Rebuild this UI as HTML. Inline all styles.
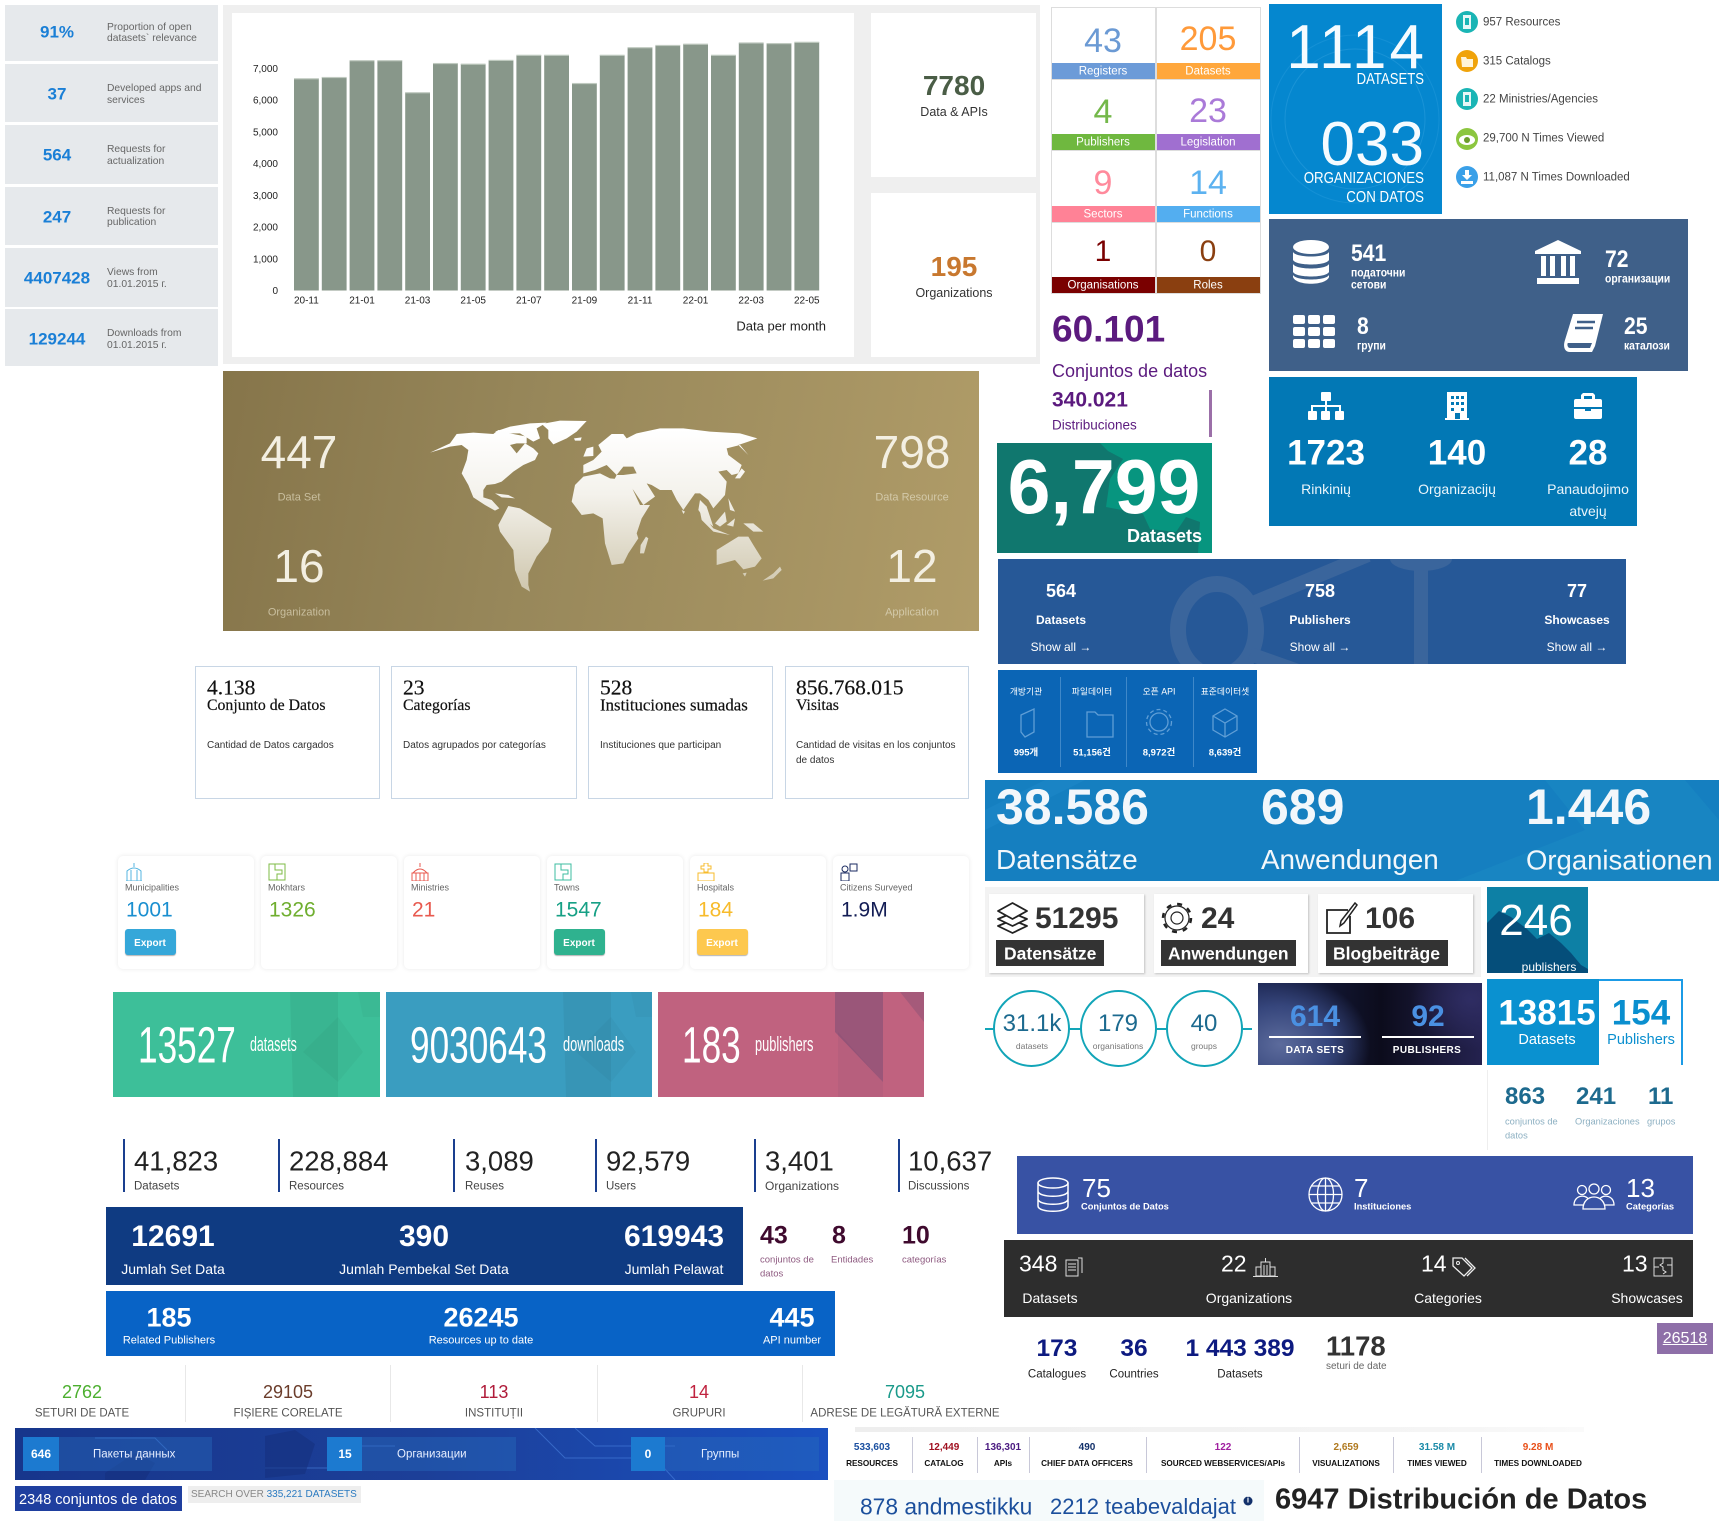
<!DOCTYPE html>
<html lang="en">
<head>
<meta charset="utf-8">
<title>Open data statistics widgets</title>
<style>
html,body{margin:0;padding:0;background:#fff}
body{position:relative;width:1724px;height:1521px;overflow:hidden;font-family:"Liberation Sans","Noto Sans CJK KR",sans-serif;color:#333}
.b{position:absolute;box-sizing:border-box}
.t{position:absolute;white-space:nowrap;line-height:1;margin-top:1px}
.l{transform:translateY(-50%)}
.c{transform:translate(-50%,-50%)}
.r{transform:translate(-100%,-50%)}
.w{font-weight:bold}
.i{position:absolute;overflow:hidden}
.m0{margin-top:0}
.row{background:#e6e9ec;left:5px;width:213px}
.num{left:57px;font-size:17px;font-weight:bold;color:#1a7fd6;margin-top:0}
.lab{left:107px;font-size:10.3px;color:#666;margin-top:1px}
.foot{color:#fff;font-size:11.5px}
.big{font-size:34px}
.box4{background:#fff;border:1.5px solid #c8d6e5;top:666px;height:133px}
.sl{font-family:"Liberation Serif",serif;color:#111;-webkit-text-stroke:.2px #111}
.d4{font-size:10px;color:#333}
.card6{background:#fff;top:856px;height:113px;border-radius:5px;box-shadow:0 0 5px rgba(0,0,0,.09)}
.btn{left:0;top:929px;width:51px;height:26px;border-radius:3px;box-shadow:0 1px 1px rgba(0,0,0,.3)}
.sv{font-size:10px;font-weight:bold}
.sb{font-size:8.2px;font-weight:bold;color:#111}
.mk{font-size:11.5px;font-weight:bold;color:#fff;transform:translateY(-50%) scaleX(.9);transform-origin:left center}
.rl{font-size:9.3px;font-weight:bold;color:#fff}
.leg{left:1483px;font-size:11.5px;color:#444;margin-top:1px}
.ro{font-size:11.5px;color:#555}
.lt{font-size:14px;color:#eaf5fb}
.ko{font-size:8.8px;color:#fff}
</style>
</head>
<body>

<section>
<div class="b row" style="top:5px;height:56px"></div>
<div class="b row" style="top:64px;height:58px"></div>
<div class="b row" style="top:125px;height:59px"></div>
<div class="b row" style="top:187px;height:58px"></div>
<div class="b row" style="top:248px;height:59px"></div>
<div class="b row" style="top:309px;height:57px"></div>
<div class="t c num" style="top:32px">91%</div>
<div class="t l lab" style="top:27px">Proportion of open</div>
<div class="t l lab" style="top:38px">datasets` relevance</div>
<div class="t c num" style="top:94px">37</div>
<div class="t l lab" style="top:88px">Developed apps and</div>
<div class="t l lab" style="top:100px">services</div>
<div class="t c num" style="top:155px">564</div>
<div class="t l lab" style="top:149px">Requests for</div>
<div class="t l lab" style="top:161px">actualization</div>
<div class="t c num" style="top:217px">247</div>
<div class="t l lab" style="top:211px">Requests for</div>
<div class="t l lab" style="top:222px">publication</div>
<div class="t c num" style="top:278px">4407428</div>
<div class="t l lab" style="top:272px">Views from</div>
<div class="t l lab" style="top:284px">01.01.2015 г.</div>
<div class="t c num" style="top:339px">129244</div>
<div class="t l lab" style="top:333px">Downloads from</div>
<div class="t l lab" style="top:345px">01.01.2015 г.</div>
</section>

<section>
<div class="b" style="left:223px;top:5px;width:817px;height:359px;background:#efefef"></div>
<div class="b" style="left:232px;top:13px;width:622px;height:344px;background:#fff"></div>
<div class="b" style="left:871px;top:13px;width:165px;height:164px;background:#fff"></div>
<div class="b" style="left:871px;top:193px;width:165px;height:164px;background:#fff"></div>
<svg id="bar-chart" class="i" style="left:0;top:0" width="1040" height="364" viewBox="0 0 1040 364"></svg>
<div class="t r m0" style="left:826px;top:326px;font-size:13px;color:#222">Data per month</div>
<div class="t c w m0" style="left:954px;top:86px;font-size:28px;color:#4a5d46">7780</div>
<div class="t c m0" style="left:954px;top:112px;font-size:12.5px;color:#333">Data &amp; APIs</div>
<div class="t c w m0" style="left:954px;top:267px;font-size:28px;color:#c8782f">195</div>
<div class="t c m0" style="left:954px;top:293px;font-size:12.5px;color:#333">Organizations</div>
</section>

<section>
<div class="b" style="left:1051px;top:7px;width:210px;height:287px;border:1px solid #ddd;background:#ddd"></div>
<div class="b" style="left:1052px;top:8px;width:103px;height:71px;background:#fff"></div>
<div class="b" style="left:1052px;top:63px;width:103px;height:16px;background:#6c9bd8"></div>
<div class="b" style="left:1157px;top:8px;width:103px;height:71px;background:#fff"></div>
<div class="b" style="left:1157px;top:63px;width:103px;height:16px;background:#ffa73c"></div>
<div class="b" style="left:1052px;top:80px;width:103px;height:70px;background:#fff"></div>
<div class="b" style="left:1052px;top:134px;width:103px;height:16px;background:#6fb83f"></div>
<div class="b" style="left:1157px;top:80px;width:103px;height:70px;background:#fff"></div>
<div class="b" style="left:1157px;top:134px;width:103px;height:16px;background:#a06fd0"></div>
<div class="b" style="left:1052px;top:151px;width:103px;height:70px;background:#fff"></div>
<div class="b" style="left:1052px;top:206px;width:103px;height:16px;background:#ff8296"></div>
<div class="b" style="left:1157px;top:151px;width:103px;height:70px;background:#fff"></div>
<div class="b" style="left:1157px;top:206px;width:103px;height:16px;background:#53aef0"></div>
<div class="b" style="left:1052px;top:223px;width:103px;height:70px;background:#fff"></div>
<div class="b" style="left:1052px;top:277px;width:103px;height:16px;background:#7a0000"></div>
<div class="b" style="left:1157px;top:223px;width:103px;height:70px;background:#fff"></div>
<div class="b" style="left:1157px;top:277px;width:103px;height:16px;background:#8a3f10"></div>
<div class="t c big" style="left:1103px;top:40px;color:#6b9ad4">43</div>
<div class="t c foot" style="left:1103px;top:71px">Registers</div>
<div class="t c big" style="left:1208px;top:38px;color:#ff9a3a">205</div>
<div class="t c foot" style="left:1208px;top:71px">Datasets</div>
<div class="t c big" style="left:1103px;top:111px;color:#74b84a">4</div>
<div class="t c foot" style="left:1103px;top:142px">Publishers</div>
<div class="t c big" style="left:1208px;top:110px;color:#aa7ad8">23</div>
<div class="t c foot" style="left:1208px;top:142px">Legislation</div>
<div class="t c big" style="left:1103px;top:182px;color:#ff8a9c">9</div>
<div class="t c foot" style="left:1103px;top:214px">Sectors</div>
<div class="t c big" style="left:1208px;top:182px;color:#5cb2f0">14</div>
<div class="t c foot" style="left:1208px;top:214px">Functions</div>
<div class="t c" style="left:1103px;top:251px;font-size:30px;color:#7a0000">1</div>
<div class="t c foot" style="left:1103px;top:285px">Organisations</div>
<div class="t c" style="left:1208px;top:251px;font-size:30px;color:#8a3f10">0</div>
<div class="t c foot" style="left:1208px;top:285px">Roles</div>
</section>

<section>
<div class="t l w m0" style="left:1052px;top:329px;font-size:37px;color:#5b1a7e">60.101</div>
<div class="t l m0" style="left:1052px;top:371px;font-size:18px;color:#5b1a7e">Conjuntos de datos</div>
<div class="t l w" style="left:1052px;top:399px;font-size:21px;color:#5b1a7e">340.021</div>
<div class="t l m0" style="left:1052px;top:425px;font-size:13.5px;color:#5b1a7e">Distribuciones</div>
<div class="b" style="left:1209px;top:390px;width:3px;height:47px;background:#9b6fa8"></div>
</section>

<section>
<svg class="i" style="left:997px;top:443px" width="215" height="110" viewBox="0 0 215 110">
<rect width="215" height="110" fill="#07957f"/>
<path d="M0 0H103L111 8 126 16 113 36 109 64 146 71 153 86 179 89 189 74 203 79 201 110H0Z" fill="#10776e"/>
</svg>
<div class="t c w" style="left:1104px;top:487px;font-size:77px;color:#fff">6,799</div>
<div class="t r w" style="left:1202px;top:535px;font-size:18px;color:#fff">Datasets</div>
</section>

<section>
<div class="b" style="left:1269px;top:4px;width:173px;height:210px;background:#0587cf"></div>
<svg class="i" style="left:1269px;top:4px" width="173" height="210" viewBox="0 0 173 210">
<circle cx="86" cy="115" r="70" fill="none" stroke="#1a93d6" stroke-width="1"/>
<circle cx="86" cy="115" r="84" fill="none" stroke="#1490d5" stroke-width="1"/>
</svg>
<div class="t r" style="left:1427px;top:47px;font-size:62px;color:#f5fbff;letter-spacing:3px">1114</div>
<div class="t r" style="left:1424px;top:79px;font-size:16px;color:#fff;transform:translate(-100%,-50%) scaleX(.82);transform-origin:right center">DATASETS</div>
<div class="t r" style="left:1424px;top:144px;font-size:62px;color:#f5fbff">033</div>
<div class="t r" style="left:1424px;top:178px;font-size:16px;color:#fff;transform:translate(-100%,-50%) scaleX(.83);transform-origin:right center">ORGANIZACIONES</div>
<div class="t r" style="left:1424px;top:197px;font-size:16px;color:#fff;transform:translate(-100%,-50%) scaleX(.83);transform-origin:right center">CON DATOS</div>
</section>

<section>
<svg class="i" style="left:1456px;top:11px" width="22" height="22" viewBox="0 0 22 22"><circle cx="11" cy="11" r="11" fill="#1ab5b5"/><rect x="7" y="4" width="8" height="14" fill="#e6f7f7"/><rect x="9" y="7" width="4" height="7" fill="#1ab5b5"/></svg>
<div class="t l leg" style="top:22px">957 Resources</div>
<svg class="i" style="left:1456px;top:50px" width="22" height="22" viewBox="0 0 22 22"><circle cx="11" cy="11" r="11" fill="#f0a30a"/><path d="M5 7h5l1 2h6v8H6z" fill="#fff4d8"/></svg>
<div class="t l leg" style="top:61px">315 Catalogs</div>
<svg class="i" style="left:1456px;top:88px" width="22" height="22" viewBox="0 0 22 22"><circle cx="11" cy="11" r="11" fill="#1ab5b5"/><rect x="7" y="4" width="8" height="14" fill="#e6f7f7"/><rect x="9" y="7" width="4" height="7" fill="#1ab5b5"/></svg>
<div class="t l leg" style="top:99px">22 Ministries/Agencies</div>
<svg class="i" style="left:1456px;top:128px" width="22" height="22" viewBox="0 0 22 22"><circle cx="11" cy="11" r="11" fill="#8cc63f"/><ellipse cx="11" cy="12" rx="8" ry="5" fill="#fff"/><circle cx="11" cy="12" r="3" fill="#6d9e2c"/></svg>
<div class="t l leg" style="top:138px">29,700 N Times Viewed</div>
<svg class="i" style="left:1456px;top:166px" width="22" height="22" viewBox="0 0 22 22"><circle cx="11" cy="11" r="11" fill="#3aa0e8"/><path d="M9 4h4v5h3l-5 5-5-5h3zM5 15h12v3H5z" fill="#fff"/></svg>
<div class="t l leg" style="top:177px">11,087 N Times Downloaded</div>
</section>

<section>
<div class="b" style="left:1269px;top:219px;width:419px;height:152px;background:#3f6089"></div>
<svg class="i" style="left:1292px;top:240px" width="38" height="44" viewBox="0 0 38 44"><g fill="#fff"><ellipse cx="19" cy="7" rx="18" ry="7"/><path d="M1 12c3 6 33 6 36 0v8c-3 6-33 6-36 0zM1 24c3 6 33 6 36 0v8c-3 6-33 6-36 0zM1 35c3 6 33 6 36 0v2c-3 9-33 9-36 0z"/></g></svg>
<div class="t l w" style="left:1351px;top:253px;font-size:24px;color:#fff;transform:translateY(-50%) scaleX(.88);transform-origin:left center">541</div>
<div class="t mk" style="left:1351px;top:273px">податочни</div>
<div class="t mk" style="left:1351px;top:285px">сетови</div>
<svg class="i" style="left:1535px;top:240px" width="46" height="44" viewBox="0 0 46 44"><g fill="#fff"><path d="M23 0l23 11v3H0v-3z"/><rect x="6" y="16" width="5" height="20"/><rect x="15" y="16" width="5" height="20"/><rect x="26" y="16" width="5" height="20"/><rect x="35" y="16" width="5" height="20"/><rect x="2" y="38" width="42" height="6"/></g></svg>
<div class="t l w" style="left:1605px;top:259px;font-size:24px;color:#fff;transform:translateY(-50%) scaleX(.88);transform-origin:left center">72</div>
<div class="t mk" style="left:1605px;top:279px">организации</div>
<svg class="i" style="left:1293px;top:315px" width="43" height="33" viewBox="0 0 43 33"><g fill="#fff"><rect width="12" height="9" rx="2"/><rect x="15" width="12" height="9" rx="2"/><rect x="30" width="12" height="9" rx="2"/><rect y="12" width="12" height="9" rx="2"/><rect x="15" y="12" width="12" height="9" rx="2"/><rect x="30" y="12" width="12" height="9" rx="2"/><rect y="24" width="12" height="9" rx="2"/><rect x="15" y="24" width="12" height="9" rx="2"/><rect x="30" y="24" width="12" height="9" rx="2"/></g></svg>
<div class="t l w" style="left:1357px;top:326px;font-size:24px;color:#fff;transform:translateY(-50%) scaleX(.88);transform-origin:left center">8</div>
<div class="t mk" style="left:1357px;top:346px">групи</div>
<svg class="i" style="left:1564px;top:314px" width="39" height="38" viewBox="0 0 39 38"><path d="M9 0h30L31 32l-3 6H6C0 38-1 32 1 26z" fill="#fff"/><path d="M4 29h24l-2 5H6c-3 0-3-5-2-5z" fill="#3f6089"/><path d="M13 8h18M11 14h18" stroke="#3f6089" stroke-width="2.5"/></svg>
<div class="t l w" style="left:1624px;top:326px;font-size:24px;color:#fff;transform:translateY(-50%) scaleX(.88);transform-origin:left center">25</div>
<div class="t mk" style="left:1624px;top:346px">каталози</div>
</section>

<section>
<div class="b" style="left:1269px;top:377px;width:368px;height:149px;background:#0278b5"></div>
<svg class="i" style="left:1308px;top:392px" width="36" height="28" viewBox="0 0 36 28"><g fill="#fff"><rect x="13" width="10" height="9" rx="1"/><rect y="19" width="9" height="9" rx="1"/><rect x="13" y="19" width="9" height="9" rx="1"/><rect x="27" y="19" width="9" height="9" rx="1"/><path d="M17 9h2v4h14v6h-2v-4H19v4h-2v-4H5v4H3v-6h14z"/></g></svg>
<div class="t c w" style="left:1326px;top:452px;font-size:35px;color:#fff">1723</div>
<div class="t c lt" style="left:1326px;top:488px">Rinkinių</div>
<svg class="i" style="left:1445px;top:392px" width="24" height="28" viewBox="0 0 24 28"><path d="M2 0h20v26h2v2H0v-2h2z" fill="#fff"/><g fill="#0278b5"><rect x="6" y="4" width="3" height="3"/><rect x="11" y="4" width="3" height="3"/><rect x="16" y="4" width="3" height="3"/><rect x="6" y="10" width="3" height="3"/><rect x="11" y="10" width="3" height="3"/><rect x="16" y="10" width="3" height="3"/><rect x="6" y="16" width="3" height="3"/><rect x="16" y="16" width="3" height="3"/><rect x="10" y="21" width="5" height="6"/></g></svg>
<div class="t c w" style="left:1457px;top:452px;font-size:35px;color:#fff">140</div>
<div class="t c lt" style="left:1457px;top:488px">Organizacijų</div>
<svg class="i" style="left:1574px;top:393px" width="28" height="26" viewBox="0 0 28 26"><path d="M9 0h10l2 2v4h5a2 2 0 0 1 2 2v6H0V8a2 2 0 0 1 2-2h5V2zM10 3v3h8V3zM0 16h11v2h6v-2h11v8a2 2 0 0 1-2 2H2a2 2 0 0 1-2-2z" fill="#fff"/></svg>
<div class="t c w" style="left:1588px;top:452px;font-size:35px;color:#fff">28</div>
<div class="t c lt" style="left:1588px;top:488px">Panaudojimo</div>
<div class="t c lt" style="left:1588px;top:510px">atvejų</div>
</section>

<section>
<div class="b" style="left:223px;top:371px;width:756px;height:260px;background:linear-gradient(100deg,#86754a 0%,#97875a 40%,#b09c68 100%)"></div>
<svg class="i" style="left:420px;top:410px" width="390" height="190" viewBox="0 0 1170 570">
<defs><linearGradient id="mapfill" gradientUnits="userSpaceOnUse" x1="0" y1="60" x2="0" y2="540"><stop offset="0" stop-color="#fff"/><stop offset=".4" stop-color="#f4f2ec"/><stop offset="1" stop-color="#cfc7ae"/></linearGradient></defs>
<g fill="url(#mapfill)">
<path d="M30 128L90 100 110 72 160 68 220 72 235 60 270 70 320 80 320 100 290 100 270 105 290 130 315 100 340 115 355 130 345 150 310 165 280 185 245 215 225 222 200 225 190 240 190 262 215 270 238 295 225 302 195 285 160 262 145 225 125 190 140 150 145 120 125 105 90 110Z"/>
<path d="M225 65L270 50 330 40 380 38 350 55 360 85 340 95 300 70 260 70Z"/>
<path d="M365 42L420 32 500 33 470 65 440 85 400 103 385 85 385 60Z"/>
<path d="M462 85L485 82 482 92 465 92Z"/>
<path d="M500 115L520 110 520 138 490 140Z"/>
<path d="M265 288L300 295 340 320 395 355 385 395 350 440 325 490 325 525 330 545 305 530 285 480 280 420 240 365 235 345Z"/>
<path d="M490 200L540 190 570 205 625 210 660 285 690 285 665 325 650 370 655 385 625 430 610 460 575 465 555 400 548 325 520 310 485 315 455 275 465 225Z"/>
<path d="M678 380L685 385 672 430 660 430 662 405Z"/>
<path d="M490 165L520 150 545 125 535 105 575 72 610 72 620 85 650 70 720 55 790 55 870 65 960 70 1012 85 985 95 955 105 985 135 960 105 920 115 925 135 965 165 955 190 935 195 920 180 895 185 920 215 915 255 880 295 865 270 840 250 825 250 790 300 770 270 755 240 720 240 695 225 680 220 705 260 670 285 640 240 620 220 580 215 590 195 610 195 650 190 640 170 610 170 590 195 560 165 525 180 490 190Z"/>
<path d="M945 205L965 175 975 185 960 205Z"/>
<path d="M840 270L860 290 880 350 860 335 835 300Z"/>
<path d="M840 305L880 355 930 375 880 365 845 330Z"/>
<path d="M885 340L915 305 920 335 900 350Z"/>
<path d="M925 265L945 305 930 300Z"/>
<path d="M970 340L1000 340 1030 365 1000 365Z"/>
<path d="M920 345L945 325 940 350Z"/>
<path d="M785 300L795 305 790 312Z"/>
<path d="M890 420L955 380 985 380 1000 405 1025 445 1005 470 970 478 945 450 890 465Z"/>
<path d="M968 490L980 488 975 500Z"/>
<path d="M1028 512L1060 490 1080 470 1085 480 1060 505Z"/>
<path d="M225 250L265 255 285 265 245 262Z"/>
</g>
</svg>
<div class="t c" style="left:299px;top:451px;font-size:46px;color:#f3efe2">447</div>
<div class="t c" style="left:299px;top:497px;font-size:11px;color:#c9bf9f">Data Set</div>
<div class="t c" style="left:912px;top:451px;font-size:46px;color:#f3efe2">798</div>
<div class="t c" style="left:912px;top:497px;font-size:11px;color:#d3c9a9">Data Resource</div>
<div class="t c" style="left:299px;top:565px;font-size:46px;color:#f3efe2">16</div>
<div class="t c" style="left:299px;top:612px;font-size:11px;color:#c9bf9f">Organization</div>
<div class="t c" style="left:912px;top:565px;font-size:46px;color:#f3efe2">12</div>
<div class="t c" style="left:912px;top:612px;font-size:11px;color:#d3c9a9">Application</div>
</section>

<section>
<svg class="i" style="left:998px;top:559px" width="628" height="105" viewBox="0 0 628 105">
<rect width="628" height="105" fill="#265897"/>
<g fill="none" stroke="#3a659c">
<ellipse cx="219" cy="71" rx="39" ry="46" stroke-width="16"/>
<path d="M255 44L370-4M252 95L300 112" stroke-width="14"/>
<path d="M423 0V105" stroke-width="14"/>
</g>
<path d="M392 0h62a31 12 0 0 1-62 0z" fill="#3a659c"/>
</svg>
<div class="t c w m0" style="left:1061px;top:591px;font-size:18px;color:#fff">564</div>
<div class="t c w m0" style="left:1061px;top:620px;font-size:12px;color:#fff">Datasets</div>
<div class="t c m0" style="left:1061px;top:647px;font-size:12px;color:#fff">Show all →</div>
<div class="t c w m0" style="left:1320px;top:591px;font-size:18px;color:#fff">758</div>
<div class="t c w m0" style="left:1320px;top:620px;font-size:12px;color:#fff">Publishers</div>
<div class="t c m0" style="left:1320px;top:647px;font-size:12px;color:#fff">Show all →</div>
<div class="t c w m0" style="left:1577px;top:591px;font-size:18px;color:#fff">77</div>
<div class="t c w m0" style="left:1577px;top:620px;font-size:12px;color:#fff">Showcases</div>
<div class="t c m0" style="left:1577px;top:647px;font-size:12px;color:#fff">Show all →</div>
</section>

<section>
<div class="b" style="left:998px;top:670px;width:259px;height:103px;background:#0b65b5"></div>
<div class="b" style="left:1060px;top:677px;width:1px;height:90px;background:#3f88c9"></div>
<div class="b" style="left:1126px;top:677px;width:1px;height:90px;background:#3f88c9"></div>
<div class="b" style="left:1193px;top:677px;width:1px;height:90px;background:#3f88c9"></div>
<div class="t c ko" style="left:1026px;top:691px">개방기관</div>
<div class="t c ko" style="left:1092px;top:691px">파일데이터</div>
<div class="t c ko" style="left:1159px;top:691px">오픈 API</div>
<div class="t c ko" style="left:1225px;top:691px">표준데이터셋</div>
<svg class="i" style="left:998px;top:670px" width="259" height="103" viewBox="0 0 259 103">
<g fill="none" stroke="#5f9ed6" stroke-width="1.3">
<path d="M23 45L36 39V62L27 67 23 62ZM23 45V62"/>
<path d="M89 42h8l3 3h15v22H89z"/>
<circle cx="161" cy="52" r="9"/><circle cx="161" cy="52" r="12.5" stroke-dasharray="4 3"/>
<path d="M227 39l12 7v14l-12 7-12-7V46zM215 46l12 7 12-7M227 53v14"/>
</g>
</svg>
<div class="t c w" style="left:1026px;top:752px;font-size:9.500px;color:#fff">995개</div>
<div class="t c w" style="left:1092px;top:752px;font-size:9.500px;color:#fff">51,156건</div>
<div class="t c w" style="left:1159px;top:752px;font-size:9.500px;color:#fff">8,972건</div>
<div class="t c w" style="left:1225px;top:752px;font-size:9.500px;color:#fff">8,639건</div>
</section>

<section>
<svg class="i" style="left:985px;top:780px" width="734" height="101" viewBox="0 0 734 101">
<rect width="734" height="101" fill="#157fc0"/>
<path d="M560 0H700L734 40V101H470L600 50Z" fill="#1885c2"/>
<path d="M0 50L100 0H60L0 30Z" fill="#1a84c5"/>
</svg>
<div class="t l w m0" style="left:996px;top:807px;font-size:50px;color:#f2f7fb">38.586</div>
<div class="t l m0" style="left:996px;top:860px;font-size:28px;color:#f2f7fb">Datensätze</div>
<div class="t l w m0" style="left:1261px;top:807px;font-size:50px;color:#f2f7fb">689</div>
<div class="t l m0" style="left:1261px;top:860px;font-size:27.800px;color:#f2f7fb">Anwendungen</div>
<div class="t l w m0" style="left:1526px;top:807px;font-size:50px;color:#f2f7fb">1.446</div>
<div class="t l m0" style="left:1526px;top:860px;font-size:27.500px;color:#f2f7fb">Organisationen</div>
</section>

<section>
<div class="b" style="left:985px;top:887px;width:496px;height:90px;background:#f3f3f3"></div>
<div class="b" style="left:989px;top:894px;width:155px;height:79px;background:#fff;box-shadow:1px 1px 2px rgba(0,0,0,.2)"></div>
<div class="b" style="left:1154px;top:894px;width:154px;height:79px;background:#fff;box-shadow:1px 1px 2px rgba(0,0,0,.2)"></div>
<div class="b" style="left:1318px;top:894px;width:155px;height:79px;background:#fff;box-shadow:1px 1px 2px rgba(0,0,0,.2)"></div>
<svg class="i" style="left:997px;top:902px" width="31" height="32" viewBox="0 0 31 32"><g fill="#fff" stroke="#222" stroke-width="1.8" stroke-linejoin="round"><path d="M15.500 18L1 24l14.500 7L30 24z"/><path d="M15.500 11L1 17l14.500 7L30 17z"/><path d="M15.500 1L1 9l14.500 8L30 9z"/></g></svg>
<div class="t l w" style="left:1035px;top:918px;font-size:30px;color:#333">51295</div>
<div class="b" style="left:996px;top:940px;width:108px;height:26px;background:#333"></div>
<div class="t l w" style="left:1004px;top:953px;font-size:17.500px;color:#fff">Datensätze</div>
<svg class="i" style="left:1161px;top:902px" width="32" height="32" viewBox="0 0 32 32"><circle cx="16" cy="16" r="6" fill="none" stroke="#222" stroke-width="1.2"/><circle cx="16" cy="16" r="12" fill="none" stroke="#222" stroke-width="1.2"/><circle cx="16" cy="16" r="14" fill="none" stroke="#222" stroke-width="2.500" stroke-dasharray="5 6"/></svg>
<div class="t l w" style="left:1201px;top:918px;font-size:30px;color:#333">24</div>
<div class="b" style="left:1161px;top:940px;width:135px;height:26px;background:#333"></div>
<div class="t l w" style="left:1168px;top:953px;font-size:17.500px;color:#fff">Anwendungen</div>
<svg class="i" style="left:1326px;top:902px" width="32" height="32" viewBox="0 0 32 32"><path d="M22 8H1v23h23V14" fill="none" stroke="#222" stroke-width="1.800"/><path d="M29 1l2 2-13 18-4 3 1-5z" fill="#fff" stroke="#222" stroke-width="1.500"/></svg>
<div class="t l w" style="left:1365px;top:918px;font-size:30px;color:#333">106</div>
<div class="b" style="left:1326px;top:940px;width:122px;height:26px;background:#333"></div>
<div class="t l w" style="left:1333px;top:953px;font-size:17.500px;color:#fff">Blogbeiträge</div>
</section>

<section>
<svg class="i" style="left:1487px;top:887px" width="101" height="86" viewBox="0 0 101 86">
<rect width="101" height="86" fill="#0d80a5"/>
<path d="M0 36L12 24 24 30 40 42 50 52 62 46 74 56 84 66 94 78 101 82V86H0Z" fill="#054e7a"/>
</svg>
<div class="t c" style="left:1536px;top:920px;font-size:44px;color:#fff">246</div>
<div class="t c m0" style="left:1549px;top:967px;font-size:12px;color:#fff">publishers</div>
</section>

<section>
<div class="b" style="left:985px;top:1028px;width:267px;height:2px;background:#12a5b8"></div>
<div class="b" style="left:993px;top:990px;width:77px;height:77px;border:2.5px solid #12a5b8;border-radius:50%;background:#fff"></div>
<div class="b" style="left:1080px;top:990px;width:77px;height:77px;border:2.5px solid #12a5b8;border-radius:50%;background:#fff"></div>
<div class="b" style="left:1166px;top:990px;width:77px;height:77px;border:2.5px solid #12a5b8;border-radius:50%;background:#fff"></div>
<div class="t c m0" style="left:1032px;top:1024px;font-size:24px;color:#1c6a8f">31.1k</div>
<div class="t c m0" style="left:1032px;top:1046px;font-size:8.500px;color:#777">datasets</div>
<div class="t c m0" style="left:1118px;top:1024px;font-size:24px;color:#1c6a8f">179</div>
<div class="t c m0" style="left:1118px;top:1046px;font-size:8.500px;color:#777">organisations</div>
<div class="t c m0" style="left:1204px;top:1024px;font-size:24px;color:#1c6a8f">40</div>
<div class="t c m0" style="left:1204px;top:1046px;font-size:8.500px;color:#777">groups</div>
</section>

<section>
<div class="b" style="left:1258px;top:983px;width:224px;height:82px;background:radial-gradient(ellipse 60px 50px at 95% 20%,#2f2d63,transparent),radial-gradient(ellipse 90px 70px at 10% 75%,#5c6b9c 0,#36467c 55%,transparent 100%),linear-gradient(90deg,#1a2450,#0c0c1c 55%,#24224f)"></div>
<div class="t c w" style="left:1315px;top:1016px;font-size:30px;color:#4a90e2">614</div>
<div class="t c w" style="left:1428px;top:1016px;font-size:30px;color:#4a90e2">92</div>
<div class="b" style="left:1269px;top:1036px;width:92px;height:2px;background:#fff"></div>
<div class="b" style="left:1382px;top:1036px;width:92px;height:2px;background:#fff"></div>
<div class="t c w" style="left:1315px;top:1050px;font-size:10px;color:#fff;letter-spacing:.4px">DATA SETS</div>
<div class="t c w" style="left:1427px;top:1050px;font-size:10px;color:#fff;letter-spacing:.4px">PUBLISHERS</div>
</section>

<section>
<div class="b" style="left:1487px;top:979px;width:196px;height:86px;background:#fff;border:1px solid #1b9be6;border-left:0;border-bottom:0;border-top-width:2px;border-right-width:2px"></div>
<div class="b" style="left:1487px;top:979px;width:112px;height:86px;background:#0a91d0"></div>
<div class="t c w" style="left:1547px;top:1012px;font-size:35px;color:#fff">13815</div>
<div class="t c" style="left:1547px;top:1039px;font-size:14.500px;color:#fff">Datasets</div>
<div class="t c w" style="left:1641px;top:1012px;font-size:35px;color:#0a8fcf">154</div>
<div class="t c" style="left:1641px;top:1039px;font-size:14.500px;color:#0a8fcf">Publishers</div>
</section>

<section>
<div class="b" style="left:1487px;top:1070px;width:1px;height:80px;background:#eee"></div>
<div class="t l w" style="left:1505px;top:1096px;font-size:24px;color:#1d6a8e">863</div>
<div class="t l" style="left:1505px;top:1121px;font-size:9.300px;color:#8db0c2">conjuntos de</div>
<div class="t l" style="left:1505px;top:1135px;font-size:9.300px;color:#8db0c2">datos</div>
<div class="t l w" style="left:1576px;top:1096px;font-size:24px;color:#1d6a8e">241</div>
<div class="t l" style="left:1575px;top:1121px;font-size:9.300px;color:#8db0c2">Organizaciones</div>
<div class="t l w" style="left:1648px;top:1096px;font-size:24px;color:#1d6a8e">11</div>
<div class="t l" style="left:1647px;top:1121px;font-size:9.300px;color:#8db0c2">grupos</div>
</section>

<section>
<div class="b box4" style="left:195px;width:185px"></div>
<div class="b box4" style="left:391px;width:186px"></div>
<div class="b box4" style="left:588px;width:185px"></div>
<div class="b box4" style="left:785px;width:184px"></div>
<div class="t l sl m0" style="left:207px;top:688px;font-size:21.500px">4.138</div>
<div class="t l sl m0" style="left:207px;top:706px;font-size:15.800px">Conjunto de Datos</div>
<div class="t l d4" style="left:207px;top:745px">Cantidad de Datos cargados</div>
<div class="t l sl m0" style="left:403px;top:688px;font-size:21.500px">23</div>
<div class="t l sl m0" style="left:403px;top:706px;font-size:15.800px">Categorías</div>
<div class="t l d4" style="left:403px;top:745px">Datos agrupados por categorías</div>
<div class="t l sl m0" style="left:600px;top:688px;font-size:21.500px">528</div>
<div class="t l sl m0" style="left:600px;top:706px;font-size:16.800px">Instituciones sumadas</div>
<div class="t l d4" style="left:600px;top:745px">Instituciones que participan</div>
<div class="t l sl m0" style="left:796px;top:688px;font-size:21.500px">856.768.015</div>
<div class="t l sl m0" style="left:796px;top:706px;font-size:15.800px">Visitas</div>
<div class="t l d4" style="left:796px;top:745px">Cantidad de visitas en los conjuntos</div>
<div class="t l d4" style="left:796px;top:760px">de datos</div>
</section>

<section>
<div class="b card6" style="left:118px;width:136px"></div>
<div class="b card6" style="left:261px;width:136px"></div>
<div class="b card6" style="left:404px;width:136px"></div>
<div class="b card6" style="left:547px;width:136px"></div>
<div class="b card6" style="left:690px;width:136px"></div>
<div class="b card6" style="left:833px;width:136px"></div>
<svg class="i" style="left:125px;top:863px" width="18" height="18" viewBox="0 0 18 18"><path d="M9 0v4M2 18V8q7-6 14 0v10zM6 7v11M12 7v11M1 18h16" fill="none" stroke="#55b5e0"/></svg>
<svg class="i" style="left:268px;top:863px" width="18" height="18" viewBox="0 0 18 18"><path d="M1 1h16v16H1zM7 1v6h7v4H9v6" fill="none" stroke="#7dbb45"/></svg>
<svg class="i" style="left:411px;top:863px" width="18" height="18" viewBox="0 0 18 18"><path d="M9 0v4M2 10q7-8 14 0zM1 10h16v8H1zM5 10v8M9 10v8M13 10v8" fill="none" stroke="#e85a4f"/></svg>
<svg class="i" style="left:554px;top:863px" width="18" height="18" viewBox="0 0 18 18"><path d="M1 1h16v16H1zM7 1v6h7v4H9v6" fill="none" stroke="#3cbca0"/></svg>
<svg class="i" style="left:697px;top:863px" width="18" height="18" viewBox="0 0 18 18"><path d="M7 0h4v3h3v3h-3v3H7V6H4V3h3zM1 10h16v8H1z" fill="none" stroke="#f7bb2b"/></svg>
<svg class="i" style="left:840px;top:863px" width="18" height="18" viewBox="0 0 18 18"><path d="M10 1h7v7h-7zM1 10h8v8H1z" fill="none" stroke="#1a2a60"/><circle cx="5" cy="6" r="3" fill="none" stroke="#1a2a60"/></svg>
<div class="t l m0" style="left:125px;top:888px;font-size:9px;color:#666">Municipalities</div>
<div class="t l" style="left:126px;top:909px;font-size:21px;color:#1a8fd0">1001</div>
<div class="b btn" style="left:125px;background:#35a7d9"></div>
<div class="t c w" style="left:150px;top:943px;font-size:10px;color:#fff">Export</div>
<div class="t l m0" style="left:268px;top:888px;font-size:9px;color:#666">Mokhtars</div>
<div class="t l" style="left:269px;top:909px;font-size:21px;color:#6fae2f">1326</div>
<div class="t l m0" style="left:411px;top:888px;font-size:9px;color:#666">Ministries</div>
<div class="t l" style="left:412px;top:909px;font-size:21px;color:#e85a4f">21</div>
<div class="t l m0" style="left:554px;top:888px;font-size:9px;color:#666">Towns</div>
<div class="t l" style="left:555px;top:909px;font-size:21px;color:#16a085">1547</div>
<div class="b btn" style="left:554px;background:#2fb28f"></div>
<div class="t c w" style="left:579px;top:943px;font-size:10px;color:#fff">Export</div>
<div class="t l m0" style="left:697px;top:888px;font-size:9px;color:#666">Hospitals</div>
<div class="t l" style="left:698px;top:909px;font-size:21px;color:#f7bb2b">184</div>
<div class="b btn" style="left:697px;background:#fdc84f"></div>
<div class="t c w" style="left:722px;top:943px;font-size:10px;color:#fff">Export</div>
<div class="t l m0" style="left:840px;top:888px;font-size:9px;color:#666">Citizens Surveyed</div>
<div class="t l" style="left:841px;top:909px;font-size:21px;color:#131d55">1.9M</div>
</section>

<section>
<svg class="i" style="left:113px;top:992px" width="267" height="105" viewBox="0 0 267 105"><rect width="267" height="105" fill="#3dbf99"/><path d="M177 0H225V105H180Z" fill="#000" opacity=".05"/><path d="M225 25L190 60 225 90 250 60ZM245 0H267V25L250 25Z" fill="#000" opacity=".03"/></svg>
<div class="t l m0" style="left:138px;top:1045px;font-size:51px;color:#fff;transform:translateY(-50%) scaleX(.69);transform-origin:left center">13527</div>
<div class="t l m0" style="left:250px;top:1045px;font-size:20px;color:#fff;transform:translateY(-50%) scaleX(.62);transform-origin:left center">datasets</div>
<svg class="i" style="left:386px;top:992px" width="266" height="105" viewBox="0 0 266 105"><rect width="266" height="105" fill="#3a9dc0"/><path d="M177 0H225V105H180Z" fill="#000" opacity=".05"/><path d="M225 25L190 60 225 90 250 60ZM245 0H266V25L250 25Z" fill="#000" opacity=".03"/></svg>
<div class="t l m0" style="left:410px;top:1045px;font-size:51px;color:#fff;transform:translateY(-50%) scaleX(.69);transform-origin:left center">9030643</div>
<div class="t l m0" style="left:563px;top:1045px;font-size:20px;color:#fff;transform:translateY(-50%) scaleX(.64);transform-origin:left center">downloads</div>
<svg class="i" style="left:658px;top:992px" width="266" height="105" viewBox="0 0 266 105"><rect width="266" height="105" fill="#c0627f"/><path d="M177 0H225V90L177 40Z" fill="#3a3a6a" opacity=".28"/><path d="M242 0H266V30Z" fill="#3a3a6a" opacity=".2"/><path d="M180 40L225 90V105H180Z" fill="#3a3a6a" opacity=".06"/></svg>
<div class="t l m0" style="left:682px;top:1045px;font-size:51px;color:#fff;transform:translateY(-50%) scaleX(.69);transform-origin:left center">183</div>
<div class="t l m0" style="left:755px;top:1045px;font-size:20px;color:#fff;transform:translateY(-50%) scaleX(.64);transform-origin:left center">publishers</div>
</section>

<section>
<div class="b" style="left:123px;top:1139px;width:2px;height:53px;background:#1a3f8f"></div>
<div class="t l m0" style="left:134px;top:1161px;font-size:27.500px;color:#222">41,823</div>
<div class="t l" style="left:134px;top:1186px;font-size:11.500px;color:#444">Datasets</div>
<div class="b" style="left:278px;top:1139px;width:2px;height:53px;background:#1a3f8f"></div>
<div class="t l m0" style="left:289px;top:1161px;font-size:27.500px;color:#222">228,884</div>
<div class="t l" style="left:289px;top:1186px;font-size:11.500px;color:#444">Resources</div>
<div class="b" style="left:453px;top:1139px;width:2px;height:53px;background:#1a3f8f"></div>
<div class="t l m0" style="left:465px;top:1161px;font-size:27.500px;color:#222">3,089</div>
<div class="t l" style="left:465px;top:1186px;font-size:11.500px;color:#444">Reuses</div>
<div class="b" style="left:595px;top:1139px;width:2px;height:53px;background:#1a3f8f"></div>
<div class="t l m0" style="left:606px;top:1161px;font-size:27.500px;color:#222">92,579</div>
<div class="t l" style="left:606px;top:1186px;font-size:11.500px;color:#444">Users</div>
<div class="b" style="left:754px;top:1139px;width:2px;height:53px;background:#1a3f8f"></div>
<div class="t l m0" style="left:765px;top:1161px;font-size:27.500px;color:#222">3,401</div>
<div class="t l" style="left:765px;top:1185px;font-size:12px;color:#444">Organizations</div>
<div class="b" style="left:898px;top:1139px;width:2px;height:53px;background:#1a3f8f"></div>
<div class="t l m0" style="left:908px;top:1161px;font-size:27.500px;color:#222">10,637</div>
<div class="t l" style="left:908px;top:1186px;font-size:11.500px;color:#444">Discussions</div>
</section>

<section>
<div class="b" style="left:106px;top:1207px;width:637px;height:78px;background:#0f3b82"></div>
<div class="t c w" style="left:173px;top:1236px;font-size:30px;color:#fff">12691</div>
<div class="t c" style="left:173px;top:1268px;font-size:14px;color:#fff">Jumlah Set Data</div>
<div class="t c w" style="left:424px;top:1236px;font-size:30px;color:#fff">390</div>
<div class="t c" style="left:424px;top:1268px;font-size:14px;color:#fff">Jumlah Pembekal Set Data</div>
<div class="t c w" style="left:674px;top:1236px;font-size:30px;color:#fff">619943</div>
<div class="t c" style="left:674px;top:1268px;font-size:14px;color:#fff">Jumlah Pelawat</div>
</section>

<section>
<div class="t l w" style="left:760px;top:1235px;font-size:25px;color:#3f0a2e">43</div>
<div class="t l" style="left:760px;top:1259px;font-size:9.500px;color:#8e5a80">conjuntos de</div>
<div class="t l" style="left:760px;top:1273px;font-size:9.500px;color:#8e5a80">datos</div>
<div class="t l w" style="left:832px;top:1235px;font-size:25px;color:#3f0a2e">8</div>
<div class="t l" style="left:831px;top:1259px;font-size:9.500px;color:#8e5a80">Entidades</div>
<div class="t l w" style="left:902px;top:1235px;font-size:25px;color:#3f0a2e">10</div>
<div class="t l" style="left:902px;top:1259px;font-size:9.500px;color:#8e5a80">categorías</div>
</section>

<section>
<div class="b" style="left:106px;top:1291px;width:729px;height:65px;background:#0863c6"></div>
<div class="t c w" style="left:169px;top:1317px;font-size:27px;color:#fff">185</div>
<div class="t c" style="left:169px;top:1340px;font-size:11px;color:#fff">Related Publishers</div>
<div class="t c w" style="left:481px;top:1317px;font-size:27px;color:#fff">26245</div>
<div class="t c" style="left:481px;top:1340px;font-size:11px;color:#fff">Resources up to date</div>
<div class="t c w" style="left:792px;top:1317px;font-size:27px;color:#fff">445</div>
<div class="t c" style="left:792px;top:1340px;font-size:11px;color:#fff">API number</div>
</section>

<section>
<div class="b" style="left:1017px;top:1156px;width:676px;height:78px;background:#3852a4"></div>
<svg class="i" style="left:1037px;top:1177px" width="32" height="35" viewBox="0 0 32 35"><g fill="none" stroke="#fff" stroke-width="1.500"><ellipse cx="16" cy="6" rx="15" ry="5"/><path d="M1 6v23c0 7 30 7 30 0V6M1 14c0 7 30 7 30 0M1 22c0 7 30 7 30 0"/></g></svg>
<div class="t l m0" style="left:1082px;top:1188px;font-size:26px;color:#fff">75</div>
<div class="t l rl m0" style="left:1081px;top:1207px">Conjuntos de Datos</div>
<svg class="i" style="left:1308px;top:1177px" width="35" height="35" viewBox="0 0 35 35"><g fill="none" stroke="#fff" stroke-width="1.300"><circle cx="17.500" cy="17.500" r="16.500"/><ellipse cx="17.500" cy="17.500" rx="8" ry="16.500"/><path d="M17.500 1v33M1 17.500h33M4 9h27M4 26h27"/></g></svg>
<div class="t l m0" style="left:1354px;top:1188px;font-size:26px;color:#fff">7</div>
<div class="t l rl m0" style="left:1354px;top:1207px">Instituciones</div>
<svg class="i" style="left:1573px;top:1183px" width="42" height="27" viewBox="0 0 42 27"><g fill="#3852a4" stroke="#fff" stroke-width="1.300"><circle cx="9" cy="7" r="4.500"/><circle cx="33" cy="7" r="4.500"/><path d="M1 22c0-11 14-11 15-4v4zM41 22c0-11-14-11-15-4v4z"/><circle cx="21" cy="6" r="5"/><path d="M10 26c0-16 22-16 22 0z"/></g></svg>
<div class="t l m0" style="left:1626px;top:1188px;font-size:26px;color:#fff">13</div>
<div class="t l rl m0" style="left:1626px;top:1207px">Categorías</div>
</section>

<section>
<div class="b" style="left:1004px;top:1240px;width:689px;height:77px;background:#2d2d2d"></div>
<div class="t l m0" style="left:1019px;top:1264px;font-size:23px;color:#fff">348</div>
<svg class="i" style="left:1065px;top:1257px" width="18" height="20" viewBox="0 0 18 20"><path d="M1 3h12v16H1zM13 1h4v15M3 7h8M3 10h8M3 13h8" fill="none" stroke="#ddd"/></svg>
<div class="t c m0" style="left:1050px;top:1298px;font-size:14px;color:#fff">Datasets</div>
<div class="t l m0" style="left:1221px;top:1264px;font-size:23px;color:#fff">22</div>
<svg class="i" style="left:1253px;top:1257px" width="25" height="20" viewBox="0 0 25 20"><path d="M12.500 1v4M8 5h9v14H8zM3 10h5v9H3zM17 10h5v9h-5zM0 19.500h25M11 8v10M14 8v10" fill="none" stroke="#ddd"/></svg>
<div class="t c m0" style="left:1249px;top:1298px;font-size:14px;color:#fff">Organizations</div>
<div class="t l m0" style="left:1421px;top:1264px;font-size:23px;color:#fff">14</div>
<svg class="i" style="left:1452px;top:1257px" width="24" height="20" viewBox="0 0 24 20"><path d="M1 1h9l10 10-8 8L1 9zM13 1l10 10-8 8" fill="none" stroke="#eee" stroke-width="1.300"/><circle cx="6" cy="6" r="1.500" fill="none" stroke="#eee"/></svg>
<div class="t c m0" style="left:1448px;top:1298px;font-size:14px;color:#fff">Categories</div>
<div class="t l m0" style="left:1622px;top:1264px;font-size:23px;color:#fff">13</div>
<svg class="i" style="left:1653px;top:1257px" width="20" height="20" viewBox="0 0 20 20"><path d="M1 1h18v18H1zM10 1v5l-3 2 3 2v3l3 2-3 2M1 10h5M14 8h5" fill="none" stroke="#ddd"/></svg>
<div class="t c m0" style="left:1647px;top:1298px;font-size:14px;color:#fff">Showcases</div>
</section>

<section>
<div class="t c w m0" style="left:1057px;top:1349px;font-size:24.500px;color:#0d1a80">173</div>
<div class="t c" style="left:1057px;top:1374px;font-size:11.500px;color:#222">Catalogues</div>
<div class="t c w m0" style="left:1134px;top:1349px;font-size:24.500px;color:#0d1a80">36</div>
<div class="t c" style="left:1134px;top:1374px;font-size:11.500px;color:#222">Countries</div>
<div class="t c w m0" style="left:1240px;top:1349px;font-size:24.500px;color:#0d1a80">1 443 389</div>
<div class="t c" style="left:1240px;top:1374px;font-size:11.500px;color:#222">Datasets</div>
<div class="t l w m0" style="left:1326px;top:1346px;font-size:27.500px;color:#333">1178</div>
<div class="t l" style="left:1326px;top:1366px;font-size:10px;color:#666">seturi de date</div>
<div class="b" style="left:1657px;top:1323px;width:56px;height:31px;background:#8e6fa8"></div>
<div class="t c" style="left:1685px;top:1338px;font-size:16px;color:#fff;text-decoration:underline">26518</div>
</section>

<section>
<div class="b" style="left:185px;top:1365px;width:1px;height:57px;background:#e8e8e8"></div>
<div class="b" style="left:390px;top:1365px;width:1px;height:57px;background:#e8e8e8"></div>
<div class="b" style="left:597px;top:1365px;width:1px;height:57px;background:#e8e8e8"></div>
<div class="b" style="left:802px;top:1365px;width:1px;height:57px;background:#e8e8e8"></div>
<div class="t c m0" style="left:82px;top:1392px;font-size:18px;color:#4caf2f">2762</div>
<div class="t c ro" style="left:82px;top:1413px">SETURI DE DATE</div>
<div class="t c m0" style="left:288px;top:1392px;font-size:18px;color:#6b3d2b">29105</div>
<div class="t c ro" style="left:288px;top:1413px">FIȘIERE CORELATE</div>
<div class="t c m0" style="left:494px;top:1392px;font-size:18px;color:#b01c3a">113</div>
<div class="t c ro" style="left:494px;top:1413px">INSTITUȚII</div>
<div class="t c m0" style="left:699px;top:1392px;font-size:18px;color:#c0233f">14</div>
<div class="t c ro" style="left:699px;top:1413px">GRUPURI</div>
<div class="t c m0" style="left:905px;top:1392px;font-size:18px;color:#1a9a8a">7095</div>
<div class="t c ro" style="left:905px;top:1413px">ADRESE DE LEGĂTURĂ EXTERNE</div>
</section>

<section>
<svg class="i" style="left:15px;top:1428px" width="813" height="52" viewBox="0 0 813 52">
<defs><linearGradient id="tech" x1="0" x2="1" y1="0" y2="0"><stop offset="0" stop-color="#17368c"/><stop offset=".5" stop-color="#1c3f98"/><stop offset="1" stop-color="#1a50c0"/></linearGradient></defs>
<rect width="813" height="52" fill="url(#tech)"/>
<path d="M520 0l30 30h90l20 22M560 0l20 18h80M250 40h70l20-22h40M80 10h60l12 12" fill="none" stroke="#4a80dd" stroke-width="1" opacity=".6"/>
<path d="M250 8l30-6 20 14-10 30-40 4zM90 45l30-20 20 10-10 17H90z" fill="#15317f" opacity=".6"/>
</svg>
<div class="b" style="left:23px;top:1437px;width:189px;height:34px;background:rgba(40,110,190,.4)"></div>
<div class="b" style="left:23px;top:1437px;width:36px;height:34px;background:#1c7ad0"></div>
<div class="t c w m0" style="left:41px;top:1454px;font-size:12px;color:#fff">646</div>
<div class="t l" style="left:93px;top:1454px;font-size:11.500px;color:#e6eeff">Пакеты данных</div>
<div class="b" style="left:327px;top:1437px;width:189px;height:34px;background:rgba(40,110,190,.4)"></div>
<div class="b" style="left:327px;top:1437px;width:35px;height:34px;background:#1c7ad0"></div>
<div class="t c w m0" style="left:345px;top:1454px;font-size:12px;color:#fff">15</div>
<div class="t l" style="left:397px;top:1454px;font-size:11.500px;color:#e6eeff">Организации</div>
<div class="b" style="left:631px;top:1437px;width:188px;height:34px;background:rgba(40,110,190,.4)"></div>
<div class="b" style="left:631px;top:1437px;width:34px;height:34px;background:#1c7ad0"></div>
<div class="t c w m0" style="left:648px;top:1454px;font-size:12px;color:#fff">0</div>
<div class="t l" style="left:701px;top:1454px;font-size:11.500px;color:#e6eeff">Группы</div>
</section>

<section>
<div class="b" style="left:15px;top:1486px;width:167px;height:25px;background:#1f3f9f"></div>
<div class="t l" style="left:19px;top:1499px;font-size:14.500px;color:#fff">2348 conjuntos de datos</div>
<div class="b" style="left:188px;top:1486px;width:173px;height:17px;background:#eee"></div>
<div class="t l" style="left:191px;top:1494px;font-size:10px;color:#888">SEARCH OVER <span style="color:#2a7ac0">335,221 DATASETS</span></div>
</section>

<section>
<div class="b" style="left:855px;top:1427px;width:729px;height:5px;background:linear-gradient(90deg,#eee,#f5f5f5 80%,#fafafa)"></div>
<div class="b" style="left:912px;top:1437px;width:1px;height:36px;background:#c8c8d8"></div>
<div class="b" style="left:977px;top:1437px;width:1px;height:36px;background:#c8c8d8"></div>
<div class="b" style="left:1029px;top:1437px;width:1px;height:36px;background:#c8c8d8"></div>
<div class="b" style="left:1146px;top:1437px;width:1px;height:36px;background:#c8c8d8"></div>
<div class="b" style="left:1299px;top:1437px;width:1px;height:36px;background:#c8c8d8"></div>
<div class="b" style="left:1393px;top:1437px;width:1px;height:36px;background:#c8c8d8"></div>
<div class="b" style="left:1481px;top:1437px;width:1px;height:36px;background:#c8c8d8"></div>
<div class="t c sv" style="left:872px;top:1447px;color:#1a4fa0">533,603</div>
<div class="t c sb m0" style="left:872px;top:1464px">RESOURCES</div>
<div class="t c sv" style="left:944px;top:1447px;color:#a01020">12,449</div>
<div class="t c sb m0" style="left:944px;top:1464px">CATALOG</div>
<div class="t c sv" style="left:1003px;top:1447px;color:#4a1a80">136,301</div>
<div class="t c sb m0" style="left:1003px;top:1464px">APIs</div>
<div class="t c sv" style="left:1087px;top:1447px;color:#12306a">490</div>
<div class="t c sb m0" style="left:1087px;top:1464px">CHIEF DATA OFFICERS</div>
<div class="t c sv" style="left:1223px;top:1447px;color:#a020a0">122</div>
<div class="t c sb m0" style="left:1223px;top:1464px">SOURCED WEBSERVICES/APIs</div>
<div class="t c sv" style="left:1346px;top:1447px;color:#b07a20">2,659</div>
<div class="t c sb m0" style="left:1346px;top:1464px">VISUALIZATIONS</div>
<div class="t c sv" style="left:1437px;top:1447px;color:#1a8aa8">31.58 M</div>
<div class="t c sb m0" style="left:1437px;top:1464px">TIMES VIEWED</div>
<div class="t c sv" style="left:1538px;top:1447px;color:#e8501a">9.28 M</div>
<div class="t c sb m0" style="left:1538px;top:1464px">TIMES DOWNLOADED</div>
</section>

<section>
<div class="b" style="left:834px;top:1480px;width:430px;height:41px;background:#f5fafb"></div>
<div class="t l m0" style="left:860px;top:1507px;font-size:22.800px;color:#1c4f9c">878 andmestikku</div>
<div class="t l m0" style="left:1050px;top:1507px;font-size:22px;color:#1c4f9c">2212 teabevaldajat</div>
<div class="t c w m0" style="left:1248px;top:1501px;width:9px;height:9px;border-radius:50%;background:#12306a;color:#fff;font-size:8px;text-align:center">i</div>
<div class="t l w m0" style="left:1275px;top:1500px;font-size:29px;color:#222">6947 Distribución de Datos</div>
</section>

<script>
var categories = ["20-11","20-12","21-01","21-02","21-03","21-04","21-05","21-06","21-07","21-08","21-09","21-10","21-11","21-12","22-01","22-02","22-03","22-04","22-05"];
var barValues = [6680,6720,7250,7250,6240,7160,7140,7260,7420,7420,6530,7420,7660,7730,7770,7420,7810,7790,7830];
var yTickValues = [0,1000,2000,3000,4000,5000,6000,7000];
var yTickLabels = ["0","1,000","2,000","3,000","4,000","5,000","6,000","7,000"];
var xTickLabels = ["20-11","21-01","21-03","21-05","21-07","21-09","21-11","22-01","22-03","22-05"];

var chartSvg = document.getElementById('bar-chart');
var NS = 'http://www.w3.org/2000/svg';
function xScale(index){ return 294 + index * 27.8; }
function yScale(value){ return 290.5 - value * 0.03171; }
var barWidth = 24.8;

barValues.forEach(function(value, index){
  var top = yScale(value);
  var bar = document.createElementNS(NS, 'rect');
  
  
  bar.setAttribute('x', xScale(index));
  bar.setAttribute('y', top);
  bar.setAttribute('width', barWidth);
  bar.setAttribute('height', yScale(0) - top);
  bar.setAttribute('fill', '#88978a');
  chartSvg.appendChild(bar);
  var cap = document.createElementNS(NS, 'rect');
  
  
  cap.setAttribute('x', xScale(index));
  cap.setAttribute('y', top - 0.5);
  cap.setAttribute('width', barWidth);
  cap.setAttribute('height', 1.2);
  cap.setAttribute('fill', '#c0cac0');
  chartSvg.appendChild(cap);
});

yTickValues.forEach(function(value, index){
  var label = document.createElementNS(NS, 'text');
  
  
  label.setAttribute('x', 278);
  label.setAttribute('y', yScale(value) + 3.5);
  label.setAttribute('text-anchor', 'end');
  label.setAttribute('font-size', '10');
  label.setAttribute('font-family', 'Liberation Sans, sans-serif');
  label.setAttribute('fill', '#222');
  label.textContent = yTickLabels[index];
  chartSvg.appendChild(label);
});

xTickLabels.forEach(function(text){
  var label = document.createElementNS(NS, 'text');
  
  
  label.setAttribute('x', xScale(categories.indexOf(text)) + barWidth / 2);
  label.setAttribute('y', 303.5);
  label.setAttribute('text-anchor', 'middle');
  label.setAttribute('font-size', '10');
  label.setAttribute('font-family', 'Liberation Sans, sans-serif');
  label.setAttribute('fill', '#222');
  label.textContent = text;
  chartSvg.appendChild(label);
});
</script>
</body>
</html>
